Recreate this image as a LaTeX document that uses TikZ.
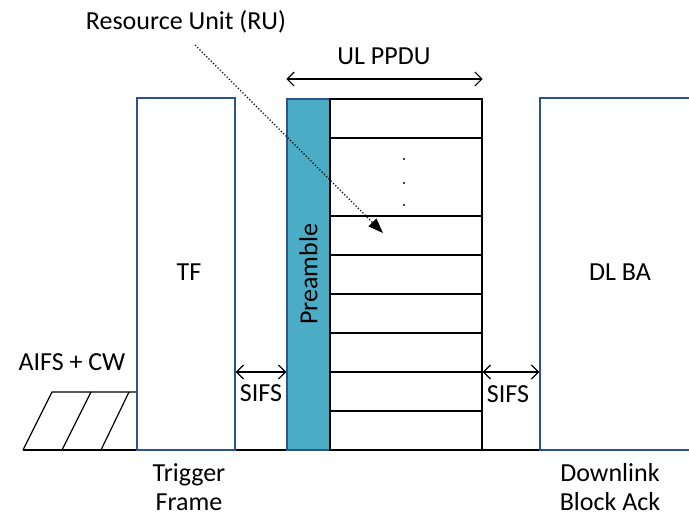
\documentclass[tikz,border=0pt]{standalone}
\usepackage{fontspec}
\setmainfont{Carlito}
\usetikzlibrary{arrows.meta}
\definecolor{boxblue}{HTML}{2F528F}
\definecolor{preteal}{HTML}{4BACC6}
\begin{document}
\begin{tikzpicture}[x=1pt,y=-1pt,
  frame/.style={draw=boxblue, line width=1.4pt, fill=white, inner sep=0pt},
  txt/.style={font=\fontsize{26}{29}\selectfont, inner sep=0pt, align=center},
  dimarrow/.style={{Straight Barb[length=7pt,width=14pt]}-{Straight Barb[length=7pt,width=14pt]}, line width=1.2pt},
  rowline/.style={line width=1.4pt},
  dotmark/.style={circle, fill=black, inner sep=0pt, minimum size=2.4pt}]
\clip (0,0) rectangle (689,517);
% baseline
\coordinate (bl) at (23,450);
\coordinate (br) at (689,450);
\draw[line width=1.4pt] (bl) -- (br);
% AIFS + CW hatch
\draw[line width=1.2pt] (23,450) -- (52,392) -- (137,392);
\draw[line width=1.2pt] (62,450) -- (91,392);
\draw[line width=1.2pt] (101,450) -- (129,392);
\node[txt] (aifs) at (72,362) {AIFS + CW};
% boxes
\node[frame, minimum width=98pt, minimum height=352pt] (tf) at (186,274) {};
\node[txt] at (189,272) {TF};
\node[frame, minimum width=160pt, minimum height=352pt] (dlba) at (620,274) {};
\node[txt] at (620,272) {DL BA};
\node[frame, fill=preteal, minimum width=43pt, minimum height=351pt] (pre) at (308.5,274.5) {};
\node[txt, rotate=90] at (pre.center) {Preamble};
\node[draw, line width=1.4pt, inner sep=0pt, minimum width=152pt, minimum height=351pt] (ppdu) at (406,274.5) {};
\foreach \y in {138,216,255,294,333,372,411}
  \draw[rowline] (ppdu.west |- 0,\y) -- (ppdu.east |- 0,\y);
\node[dotmark] (d1) at (404,159) {};
\node[dotmark] (d2) at (404,183) {};
\node[dotmark] (d3) at (404,205) {};
% UL PPDU
\coordinate (uly) at (0,79);
\draw[dimarrow] (pre.west |- uly) -- (ppdu.east |- uly);
\node[txt] (ulppdu) at (384,56) {UL PPDU};
% SIFS
\coordinate (sy) at (0,372);
\draw[dimarrow] (tf.east |- sy) -- (pre.west |- sy);
\node[txt] (sifs1) at (261,393) {SIFS};
\draw[dimarrow] (ppdu.east |- sy) -- (dlba.west |- sy);
\node[txt] (sifs2) at (508,394) {SIFS};
% labels below
\node[txt] (trig) at (189,487) {Trigger\\Frame};
\node[txt] (dlack) at (610,487) {Downlink\\Block Ack};
% Resource unit
\node[txt] (ru) at (186,22) {Resource Unit (RU)};
\coordinate (rutip) at (383,233);
\draw[line width=1.2pt, dotted, -{Triangle[length=15pt,width=11pt]}] (195,45) -- (rutip);
\end{tikzpicture}
\end{document}
